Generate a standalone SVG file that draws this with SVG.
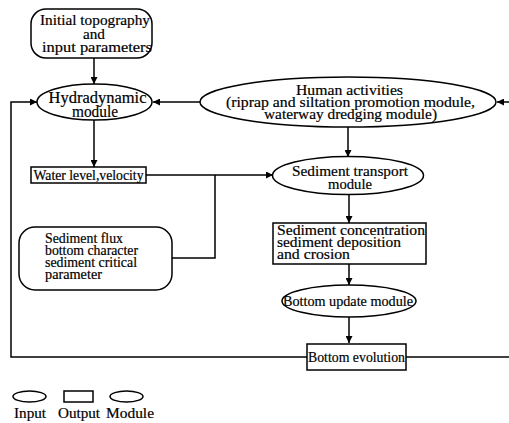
<svg xmlns="http://www.w3.org/2000/svg" width="509" height="423" viewBox="0 0 509 423">
<defs>
<marker id="ah" viewBox="0 0 8 8" refX="8" refY="4" markerWidth="7" markerHeight="7" markerUnits="userSpaceOnUse" orient="auto">
<path d="M0,0 L8,4 L0,8 Z" fill="#000"/>
</marker>
<style>
.s{fill:#fff;stroke:#000;stroke-width:1.5}
.t{font-family:'Liberation Serif','DejaVu Serif',serif;font-size:15.5px;fill:#000;stroke:#000;stroke-width:0.2}
.c{text-anchor:middle}
.l{fill:none;stroke:#000;stroke-width:1.5}
</style>
</defs>
<rect width="509" height="423" fill="#fff"/>
<g id="connectors">
<line class="l" x1="94" y1="58" x2="94" y2="84" marker-end="url(#ah)"/>
<line class="l" x1="200" y1="102" x2="153" y2="102" marker-end="url(#ah)"/>
<line class="l" x1="509" y1="102" x2="497" y2="102" marker-end="url(#ah)"/>
<polyline class="l" points="307,357 11,357 11,102 37,102" marker-end="url(#ah)"/>
<line class="l" x1="406" y1="357" x2="509" y2="357"/>
<line class="l" x1="94" y1="120" x2="94" y2="167" marker-end="url(#ah)"/>
<line class="l" x1="146" y1="175" x2="273" y2="175" marker-end="url(#ah)"/>
<polyline class="l" points="172,258 215,258 215,175"/>
<line class="l" x1="348" y1="127" x2="348" y2="157" marker-end="url(#ah)"/>
<line class="l" x1="349" y1="194" x2="349" y2="223" marker-end="url(#ah)"/>
<line class="l" x1="349" y1="264" x2="349" y2="285" marker-end="url(#ah)"/>
<line class="l" x1="349" y1="317" x2="349" y2="343" marker-end="url(#ah)"/>
</g>
<g font-family="Liberation Serif, DejaVu Serif, serif">
<g id="initial">
<rect class="s" x="31" y="9" width="121" height="49" rx="15" ry="15"/>
<text class="t c" x="95" y="25" textLength="110" lengthAdjust="spacingAndGlyphs">Initial topography</text>
<text class="t c" x="94" y="38.5" textLength="22" lengthAdjust="spacingAndGlyphs">and</text>
<text class="t c" x="97" y="52" textLength="110" lengthAdjust="spacingAndGlyphs">input parameters</text>
</g>
<g id="hydro">
<ellipse class="s" cx="94.5" cy="102" rx="57.5" ry="18"/>
<text class="t c" x="97.5" y="103" style="font-size:16.5px" textLength="98" lengthAdjust="spacingAndGlyphs">Hydradynamic</text>
<text class="t c" x="95" y="117" style="font-size:16.5px" textLength="46" lengthAdjust="spacingAndGlyphs">module</text>
</g>
<g id="human">
<ellipse class="s" cx="348" cy="102" rx="148" ry="25"/>
<text class="t c" x="349.5" y="95" textLength="107" lengthAdjust="spacingAndGlyphs">Human activities</text>
<text class="t c" x="350.5" y="107" textLength="249" lengthAdjust="spacingAndGlyphs">(riprap and siltation promotion module,</text>
<text class="t c" x="350.5" y="119" textLength="173" lengthAdjust="spacingAndGlyphs">waterway dredging module)</text>
</g>
<g id="water">
<rect class="s" x="31" y="167" width="115" height="16"/>
<text class="t c" x="88.5" y="180" style="font-size:13.8px" textLength="110" lengthAdjust="spacingAndGlyphs">Water level,velocity</text>
</g>
<g id="transport">
<ellipse class="s" cx="348" cy="175.5" rx="75.5" ry="19"/>
<text class="t c" x="350" y="175.5" textLength="116" lengthAdjust="spacingAndGlyphs">Sediment transport</text>
<text class="t c" x="350" y="188.5" textLength="44" lengthAdjust="spacingAndGlyphs">module</text>
</g>
<g id="flux">
<rect class="s" x="19" y="227" width="153" height="63" rx="16" ry="16"/>
<text class="t" x="45" y="243" style="font-size:14.5px" textLength="78" lengthAdjust="spacingAndGlyphs">Sediment flux</text>
<text class="t" x="45" y="255" style="font-size:14.5px" textLength="93" lengthAdjust="spacingAndGlyphs">bottom character</text>
<text class="t" x="45" y="267" style="font-size:14.5px" textLength="92" lengthAdjust="spacingAndGlyphs">sediment critical</text>
<text class="t" x="45" y="279" style="font-size:14.5px" textLength="57" lengthAdjust="spacingAndGlyphs">parameter</text>
</g>
<g id="concentration">
<rect class="s" x="273" y="223" width="153" height="41"/>
<text class="t" x="277" y="235" textLength="148" lengthAdjust="spacingAndGlyphs">Sediment concentration</text>
<text class="t" x="277" y="247" textLength="124" lengthAdjust="spacingAndGlyphs">sediment deposition</text>
<text class="t" x="277" y="259" textLength="73" lengthAdjust="spacingAndGlyphs">and crosion</text>
</g>
<g id="update">
<ellipse class="s" cx="349" cy="301" rx="67" ry="16"/>
<text class="t c" x="348" y="305.5" textLength="130" lengthAdjust="spacingAndGlyphs">Bottom update module</text>
</g>
<g id="evolution">
<rect class="s" x="307" y="344" width="99" height="26"/>
<text class="t c" x="356.5" y="362" textLength="97" lengthAdjust="spacingAndGlyphs">Bottom evolution</text>
</g>
<g id="legend">
<ellipse class="s" cx="29.5" cy="396.5" rx="16.5" ry="5.5"/>
<rect class="s" x="64" y="391" width="29" height="11"/>
<ellipse class="s" cx="126.5" cy="396.5" rx="16.5" ry="5.5"/>
<text class="t c" x="30" y="418" textLength="32" lengthAdjust="spacingAndGlyphs">Input</text>
<text class="t c" x="79" y="418" textLength="42" lengthAdjust="spacingAndGlyphs">Output</text>
<text class="t c" x="130" y="418" textLength="48" lengthAdjust="spacingAndGlyphs">Module</text>
</g>
</g>
</svg>
